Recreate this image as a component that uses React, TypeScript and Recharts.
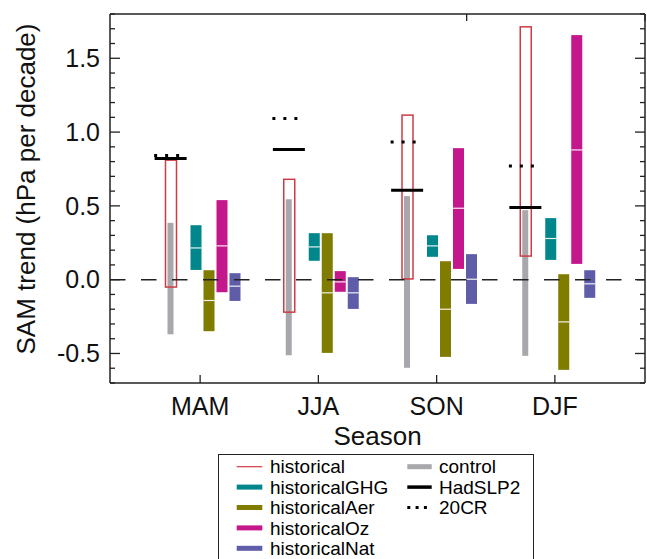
import React from 'react';
import { Bar, ComposedChart, Line, ReferenceLine, XAxis, YAxis } from 'recharts';

const FONT = '"Liberation Sans", Arial, sans-serif';

const seasons = ['MAM', 'JJA', 'SON', 'DJF'];

// [low, high] trend ranges (hPa per decade)
const historical = [
  [-0.05, 0.81],
  [-0.22, 0.68],
  [0.005, 1.115],
  [0.16, 1.713],
];
const control = [
  [-0.37, 0.385],
  [-0.512, 0.545],
  [-0.597, 0.566],
  [-0.516, 0.471],
];
const historicalGHG = [
  [0.066, 0.369],
  [0.128, 0.315],
  [0.155, 0.301],
  [0.134, 0.417],
];
const historicalGHGMedian = [0.215, 0.222, 0.229, 0.279];
const historicalAer = [
  [-0.349, 0.064],
  [-0.496, 0.315],
  [-0.523, 0.125],
  [-0.611, 0.037],
];
const historicalAerMedian = [-0.141, -0.089, -0.2, -0.286];
const historicalOz = [
  [-0.085, 0.539],
  [-0.082, 0.058],
  [0.073, 0.891],
  [0.107, 1.657],
];
const historicalOzMedian = [0.229, -0.015, 0.484, 0.879];
const historicalNat = [
  [-0.144, 0.044],
  [-0.198, 0.017],
  [-0.164, 0.173],
  [-0.123, 0.064],
];
const historicalNatMedian = [-0.044, -0.089, 0.003, -0.028];
const hadSLP2 = [0.821, 0.882, 0.606, 0.489];
const cr20 = [0.841, 1.092, 0.932, 0.771];

const yTicks = [
  -0.7, -0.6, -0.5, -0.4, -0.3, -0.2, -0.1, 0, 0.1, 0.2, 0.3, 0.4, 0.5, 0.6, 0.7, 0.8, 0.9, 1.0,
  1.1, 1.2, 1.3, 1.4, 1.5, 1.6, 1.7, 1.8,
];
const yLabelTicks = [-0.5, 0, 0.5, 1.0, 1.5];
const topTicks = [2, 3, 4];

const COLORS = {
  historical: '#cf3b44',
  control: '#a8a8ac',
  ghg: '#00868b',
  aer: '#807c00',
  oz: '#c4178b',
  nat: '#5f5da8',
  axis: '#222',
};

const rows = seasons.map((season, i) => ({
  season,
  historical: historical[i],
  control: control[i],
  ghg: historicalGHG[i],
  ghgMed: historicalGHGMedian[i],
  aer: historicalAer[i],
  aerMed: historicalAerMedian[i],
  oz: historicalOz[i],
  ozMed: historicalOzMedian[i],
  nat: historicalNat[i],
  natMed: historicalNatMedian[i],
  had: hadSLP2[i],
  cr: cr20[i],
}));

const isMajor = (v: number) => yLabelTicks.some((m) => Math.abs(m - v) < 1e-6);

const LeftTick = (props: any) => {
  const { x, y, payload } = props;
  const major = isMajor(payload.value);
  return (
    <g>
      <line x1={x} x2={x + (major ? 10 : 5)} y1={y} y2={y} stroke={COLORS.axis} strokeWidth={1.3} />
      {major && (
        <text x={x - 10} y={y} dy='0.35em' textAnchor='end' fontSize={25} fontFamily={FONT} fill='#111'>
          {payload.value.toFixed(1)}
        </text>
      )}
    </g>
  );
};

const RightTick = (props: any) => {
  const { x, y, payload } = props;
  const major = isMajor(payload.value);
  return <line x1={x} x2={x - (major ? 10 : 5)} y1={y} y2={y} stroke={COLORS.axis} strokeWidth={1.3} />;
};

const BottomTick = (props: any) => {
  const { x, y, payload } = props;
  return (
    <g>
      <line x1={x} x2={x} y1={y} y2={y - 8} stroke={COLORS.axis} strokeWidth={1.3} />
      <text x={x} y={y + 32} textAnchor='middle' fontSize={25} fontFamily={FONT} fill='#111'>
        {payload.value}
      </text>
    </g>
  );
};

const TopTick = (props: any) => {
  const { x, y } = props;
  return <line x1={x} x2={x} y1={y} y2={y + 7} stroke={COLORS.axis} strokeWidth={1.3} />;
};

// filled range bar with a white median line
const rangeShape = (color: string, key: string, medKey?: string) => (props: any) => {
  const { x, y, width, height, payload } = props;
  const top = Math.min(y, y + height);
  const h = Math.abs(height);
  const [lo, hi] = payload[key];
  const med = medKey ? payload[medKey] : null;
  const my = med == null ? null : top + (h * (hi - med)) / (hi - lo);
  return (
    <g>
      <rect x={x} y={top} width={width} height={h} fill={color} />
      {my != null && (
        <line x1={x} x2={x + width} y1={my} y2={my} stroke='#fff' strokeOpacity={0.9} strokeWidth={1.2} />
      )}
    </g>
  );
};

const historicalShape = (props: any) => {
  const { x, y, width, height } = props;
  const top = Math.min(y, y + height);
  return (
    <rect
      x={x}
      y={top}
      width={width}
      height={Math.abs(height)}
      fill='none'
      stroke={COLORS.historical}
      strokeWidth={1.5}
    />
  );
};

const hadDot = (p: any) => (
  <line key={`had-${p.index}`} x1={p.cx - 16} x2={p.cx + 16} y1={p.cy} y2={p.cy} stroke='#000' strokeWidth={3.2} />
);

const crDot = (p: any) => (
  <line
    key={`cr-${p.index}`}
    x1={p.cx - 16.5}
    x2={p.cx + 8.5}
    y1={p.cy}
    y2={p.cy}
    stroke='#000'
    strokeWidth={3}
    strokeDasharray='3 8'
  />
);

const legendLeft = [
  { name: 'historical', color: COLORS.historical, width: 1.2, dash: undefined as string | undefined },
  { name: 'historicalGHG', color: COLORS.ghg, width: 5, dash: undefined },
  { name: 'historicalAer', color: COLORS.aer, width: 5, dash: undefined },
  { name: 'historicalOz', color: COLORS.oz, width: 5, dash: undefined },
  { name: 'historicalNat', color: COLORS.nat, width: 5, dash: undefined },
];
const legendRight = [
  { name: 'control', color: COLORS.control, width: 5, dash: undefined as string | undefined },
  { name: 'HadSLP2', color: '#000', width: 3.5, dash: undefined },
  { name: '20CR', color: '#000', width: 3, dash: '3 5.3' },
];

const LegendBox = () => {
  const row = (i: number) => 12.7 + 20.4 * i;
  return (
    <div
      style={{
        position: 'absolute',
        left: 218,
        top: 454,
        width: 316,
        height: 120,
        border: `1.5px solid ${COLORS.axis}`,
        boxSizing: 'border-box',
      }}
    >
      <svg width={316} height={120} style={{ position: 'absolute', left: -1.5, top: -1.5 }}>
        {legendLeft.map((item, i) => (
          <g key={item.name}>
            <line x1={18.7} x2={44.3} y1={row(i)} y2={row(i)} stroke={item.color} strokeWidth={item.width} />
            <text x={52} y={row(i)} dy='0.35em' fontSize={19} fontFamily={FONT} fill='#000'>
              {item.name}
            </text>
          </g>
        ))}
        {legendRight.map((item, i) => (
          <g key={item.name}>
            <line
              x1={189.3}
              x2={213.7}
              y1={row(i)}
              y2={row(i)}
              stroke={item.color}
              strokeWidth={item.width}
              strokeDasharray={item.dash}
            />
            <text x={221} y={row(i)} dy='0.35em' fontSize={19} fontFamily={FONT} fill='#000'>
              {item.name}
            </text>
          </g>
        ))}
      </svg>
    </div>
  );
};

export default function App() {
  return (
    <div style={{ position: 'absolute', left: 0, top: 0, width: 647, height: 559, background: '#fff' }}>
      <ComposedChart
        width={647}
        height={559}
        data={rows}
        margin={{ top: 13, right: 0, bottom: 0, left: 0 }}
        barGap={2}
      >
        <XAxis
          xAxisId='main'
          dataKey='season'
          type='category'
          padding={{ left: 31, right: 31 }}
          height={176}
          interval={0}
          tickLine={false}
          tickSize={0}
          tickMargin={0}
          tick={<BottomTick />}
          axisLine={{ stroke: COLORS.axis, strokeWidth: 1.5 }}
          label={{
            content: () => (
              <text x={377.5} y={445} textAnchor='middle' fontSize={26} fontFamily={FONT} fill='#111'>
                Season
              </text>
            ),
          }}
        />
        <XAxis
          xAxisId='top'
          orientation='top'
          type='number'
          domain={[0, 5]}
          allowDataOverflow
          ticks={topTicks}
          height={1}
          interval={0}
          tickLine={false}
          tickSize={0}
          tickMargin={0}
          tick={<TopTick />}
          axisLine={{ stroke: COLORS.axis, strokeWidth: 1.5 }}
        />
        <XAxis xAxisId='hist' dataKey='season' type='category' hide height={0} padding={{ left: 1.5, right: 60.5 }} />
        <XAxis xAxisId='ctrl' dataKey='season' type='category' hide height={0} padding={{ left: 1.5, right: 60.5 }} />
        <XAxis xAxisId='exp' dataKey='season' type='category' hide height={0} padding={{ left: 46.5, right: 15.5 }} />
        <YAxis
          yAxisId='left'
          type='number'
          width={110}
          domain={[-0.7, 1.8]}
          allowDataOverflow
          ticks={yTicks}
          interval={0}
          tickLine={false}
          tickSize={0}
          tickMargin={0}
          tick={<LeftTick />}
          axisLine={{ stroke: COLORS.axis, strokeWidth: 1.5 }}
          label={{
            content: () => (
              <text
                x={35}
                y={189}
                transform='rotate(-90, 35, 189)'
                textAnchor='middle'
                fontSize={26}
                fontFamily={FONT}
                fill='#111'
              >
                SAM trend (hPa per decade)
              </text>
            ),
          }}
        />
        <YAxis
          yAxisId='right'
          orientation='right'
          type='number'
          width={2}
          domain={[-0.7, 1.8]}
          allowDataOverflow
          ticks={yTicks}
          interval={0}
          tickLine={false}
          tickSize={0}
          tickMargin={0}
          tick={<RightTick />}
          axisLine={{ stroke: COLORS.axis, strokeWidth: 1.5 }}
        />

        <Bar
          xAxisId='ctrl'
          yAxisId='left'
          dataKey='control'
          barSize={6}
          shape={rangeShape(COLORS.control, 'control')}
          isAnimationActive={false}
        />
        <Bar
          xAxisId='hist'
          yAxisId='left'
          dataKey='historical'
          barSize={11}
          shape={historicalShape}
          isAnimationActive={false}
        />
        <Bar xAxisId='exp' yAxisId='left' dataKey='ghg' barSize={11} shape={rangeShape(COLORS.ghg, 'ghg', 'ghgMed')} isAnimationActive={false} />
        <Bar xAxisId='exp' yAxisId='left' dataKey='aer' barSize={11} shape={rangeShape(COLORS.aer, 'aer', 'aerMed')} isAnimationActive={false} />
        <Bar xAxisId='exp' yAxisId='left' dataKey='oz' barSize={11} shape={rangeShape(COLORS.oz, 'oz', 'ozMed')} isAnimationActive={false} />
        <Bar xAxisId='exp' yAxisId='left' dataKey='nat' barSize={11} shape={rangeShape(COLORS.nat, 'nat', 'natMed')} isAnimationActive={false} />

        <ReferenceLine
          xAxisId='main'
          yAxisId='left'
          y={0}
          stroke={COLORS.axis}
          strokeWidth={1.5}
          strokeDasharray='15.5 15.5'
        />

        <Line
          xAxisId='hist'
          yAxisId='left'
          dataKey='had'
          stroke='none'
          dot={hadDot}
          activeDot={false}
          isAnimationActive={false}
        />
        <Line
          xAxisId='hist'
          yAxisId='left'
          dataKey='cr'
          stroke='none'
          dot={crDot}
          activeDot={false}
          isAnimationActive={false}
        />
      </ComposedChart>
      <LegendBox />
    </div>
  );
}
